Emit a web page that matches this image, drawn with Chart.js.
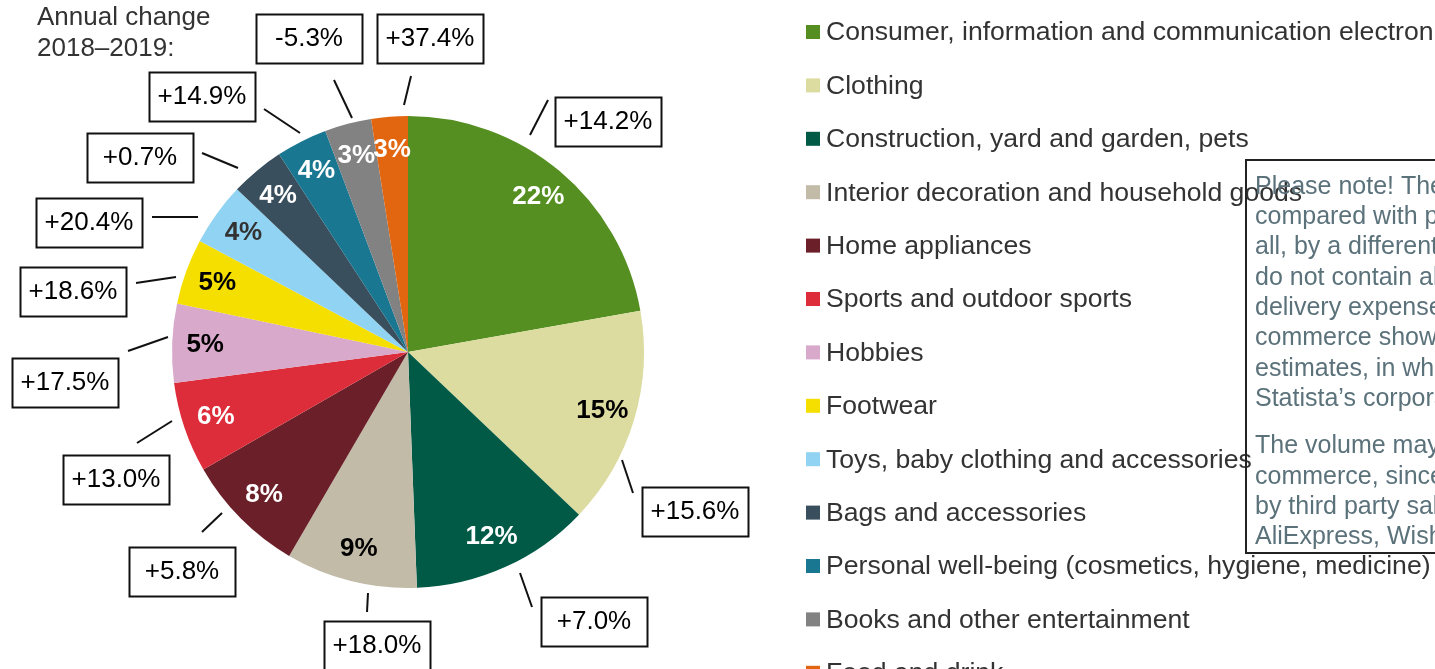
<!DOCTYPE html>
<html>
<head>
<meta charset="utf-8">
<script src="https://cdn.jsdelivr.net/npm/chart.js@4"></script>
<style>
  html, body { margin: 0; padding: 0; background: #fff; overflow: hidden; }
  #wrap { position: relative; width: 1435px; height: 669px; }
</style>
</head>
<body>
<div id="wrap"><canvas id="share-chart" width="1435" height="669"></canvas></div>
<script>
// Segment shares (per cent)
const categories = [
    'Consumer, information and communication electronics',
    'Clothing',
    'Construction, yard and garden, pets',
    'Interior decoration and household goods',
    'Home appliances',
    'Sports and outdoor sports',
    'Hobbies',
    'Footwear',
    'Toys, baby clothing and accessories',
    'Bags and accessories',
    'Personal well-being (cosmetics, hygiene, medicine)',
    'Books and other entertainment',
    'Food and drink'
];
const shares = [22.2, 14.9, 12.3, 9.0, 8.3, 6.2, 5.4, 4.5, 4.3, 3.7, 3.5, 3.2, 2.5];
const shareLabels = ['22%', '15%', '12%', '9%', '8%', '6%', '5%', '5%', '4%', '4%', '4%', '3%', '3%'];
const annualChange = ['+14.2%', '+15.6%', '+7.0%', '+18.0%', '+5.8%', '+13.0%', '+17.5%',
    '+18.6%', '+20.4%', '+0.7%', '+14.9%', '-5.3%', '+37.4%'];

const colors = ['#558f22', '#dddca0', '#005a45', '#c2bba8', '#6b2029', '#de2d3a', '#d9a9cb',
    '#f5df00', '#91d3f2', '#3a4f5e', '#1a7791', '#828282', '#e2650f'];
const labelColors = ['#fff', '#000', '#fff', '#000', '#fff', '#fff', '#000',
    '#000', '#333', '#fff', '#fff', '#fff', '#fff'];

// callout boxes, placed by hand around the pie (offsets from the pie centre)
const calloutBox = [[200, -231], [287, 159], [186, 269], [-31, 293], [-226, 219], [-292, 127],
    [-343, 30], [-335, -61], [-319, -130], [-268, -195], [-206, -256], [-99, -314], [22, -314]];
const calloutLine = [
    [122, -217, 140, -252], [214, 108, 225, 141], [112, 221, 124, 255], [-40, 241, -41, 260],
    [-206, 180, -186, 161], [-271, 91, -236, 69], [-280, -1, -240, -15], [-272, -69, -232, -75],
    [-256, -135, -210, -135], [-206, -199, -170, -184], [-144, -243, -108, -219],
    [-74, -272, -56, -234], [3, -276, -4, -247]
];

const noteLines = [
    'Please note! The figures can not be',
    'compared with previous years at',
    'all, by a different data basis. They',
    'do not contain all sales taxes and',
    'delivery expenses. The online',
    'commerce shown here consists of',
    'estimates, in which the shares of',
    "Statista\u2019s corporate data is used.",
    null,
    'The volume may be larger in e-',
    'commerce, since sales purchased',
    'by third party sales platforms like',
    'AliExpress, Wish are not included.'
];

const FONT = '"Liberation Sans", Arial, sans-serif';

// Draws the slice labels, the callouts, the legend and the note
const decorations = {
    id: 'decorations',
    afterDatasetsDraw(chart) {
        const ctx = chart.ctx;
        const arcs = chart.getDatasetMeta(0).data;
        const cx = arcs[0].x, cy = arcs[0].y, r = arcs[0].outerRadius;

        ctx.save();
        // percent labels inside slices
        ctx.font = 'bold 26px ' + FONT;
        ctx.textAlign = 'center';
        ctx.textBaseline = 'middle';
        arcs.forEach((arc, i) => {
            const mid = (arc.startAngle + arc.endAngle) / 2;
            const d = r * 0.86;
            ctx.fillStyle = labelColors[i];
            ctx.fillText(shareLabels[i], cx + Math.cos(mid) * d, cy + Math.sin(mid) * d);
        });

        // callouts with annual change
        ctx.font = '26px ' + FONT;
        ctx.lineWidth = 2;
        ctx.strokeStyle = '#111';
        annualChange.forEach((txt, i) => {
            const l = calloutLine[i];
            ctx.beginPath();
            ctx.moveTo(cx + l[0], cy + l[1]);
            ctx.lineTo(cx + l[2], cy + l[3]);
            ctx.stroke();
            const bx = cx + calloutBox[i][0], by = cy + calloutBox[i][1];
            ctx.strokeRect(Math.round(bx - 53) + 0.5, Math.round(by - 24) + 0.5, 106, 49);
            ctx.fillStyle = '#000';
            ctx.fillText(txt, bx, by + 1);
        });

        // title of the callouts
        ctx.textAlign = 'left';
        ctx.fillStyle = '#333';
        ctx.fillText('Annual change', 37, 18);
        ctx.fillText('2018\u20132019:', 37, 49);

        // legend
        ctx.font = '26.6px ' + FONT;
        categories.forEach((name, i) => {
            const y = 32 + i * 53.4;
            ctx.fillStyle = colors[i];
            ctx.fillRect(806, y - 7, 14, 14);
            ctx.fillStyle = '#333';
            ctx.fillText(name, 826, y + 1);
        });

        // note box (transparent, overlaps the legend)
        ctx.strokeStyle = '#222';
        ctx.lineWidth = 2;
        ctx.strokeRect(1246, 160, 220, 393);
        ctx.font = '25px ' + FONT;
        ctx.fillStyle = '#5b727b';
        let y = 187;
        noteLines.forEach(line => {
            if (line === null) { y += 17; return; }
            ctx.fillText(line, 1255, y);
            y += 30.3;
        });
        ctx.restore();
    }
};

new Chart(document.getElementById('share-chart'), {
    type: 'pie',
    data: {
        labels: categories,
        datasets: [{
            data: shares,
            backgroundColor: colors,
            borderWidth: 0
        }]
    },
    options: {
        responsive: false,
        animation: false,
        layout: { padding: { left: 172, right: 791, top: 116, bottom: 81 } },
        plugins: {
            legend: { display: false },
            tooltip: { enabled: false }
        }
    },
    plugins: [decorations]
});
</script>
</body>
</html>
